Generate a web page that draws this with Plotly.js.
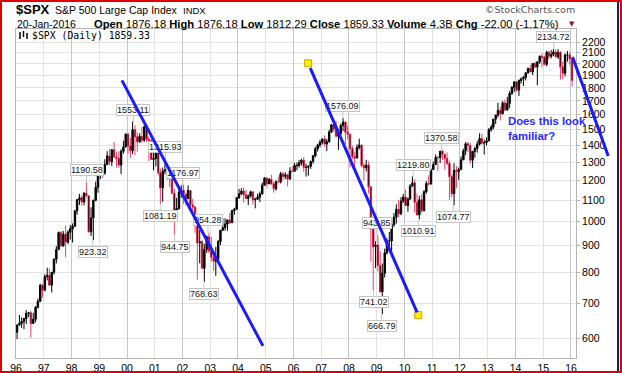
<!DOCTYPE html>
<html><head><meta charset="utf-8">
<script src="https://cdn.plot.ly/plotly-3.0.1.min.js"></script>
<style>
html,body{margin:0;padding:0;background:#fff;}
#chart{width:622px;height:373px;}
#frame{position:absolute;left:0;top:0;width:622px;height:373px;box-sizing:border-box;border:2px solid #e00000;pointer-events:none;}
#frame2{position:absolute;left:617px;top:2px;width:2px;height:369px;background:#1c1c6e;pointer-events:none;}
</style></head><body>
<div id="chart"></div><div id="frame"></div><div id="frame2"></div>
<script>
// ---- data (monthly OHLC of $SPX) ----
const startYear = 1996;
const firstOpen = 615.93;
const high = [
636.18,664.23,656.97,656.41,678.51,673.31,675.88,670.68,690.88,714.10,762.12,761.75,
794.67,817.68,814.90,802.50,851.87,898.70,957.70,960.32,960.46,983.12,964.00,986.25,
992.65,1051.18,1105.65,1130.52,1123.95,1138.49,1190.58,1121.83,1066.11,1102.53,1192.97,1244.93,
1283.00,1283.08,1316.18,1362.80,1375.98,1372.93,1420.33,1360.67,1361.52,1375.02,1427.00,1473.78,
1478.00,1444.55,1553.11,1527.19,1481.51,1474.63,1517.32,1525.21,1530.09,1454.82,1438.46,1389.06,
1383.37,1376.38,1263.47,1269.30,1315.93,1286.62,1239.78,1226.27,1155.40,1110.61,1163.38,1173.62,
1176.97,1130.20,1173.94,1147.84,1106.59,1070.00,994.46,965.00,924.02,907.44,941.82,954.28,
935.05,864.64,895.90,924.24,965.38,1015.33,1015.41,1011.01,1040.29,1053.79,1063.65,1112.56,
1155.38,1158.98,1163.23,1150.57,1127.74,1146.34,1140.84,1111.00,1131.54,1142.05,1188.46,1217.33,
1217.80,1212.44,1229.11,1191.88,1199.56,1219.59,1245.15,1245.86,1243.13,1233.34,1270.64,1275.80,
1294.90,1297.57,1310.88,1318.16,1326.70,1290.68,1280.42,1306.74,1340.28,1389.45,1407.89,1431.81,
1441.61,1461.57,1438.89,1498.02,1535.56,1540.56,1555.90,1503.89,1538.74,1576.09,1552.76,1523.57,
1471.77,1396.02,1359.68,1404.57,1440.24,1404.05,1292.17,1313.15,1303.04,1167.03,1007.51,918.85,
943.85,877.86,832.98,888.70,930.17,956.23,996.68,1039.47,1080.15,1101.36,1113.69,1130.38,
1150.45,1112.42,1180.16,1219.80,1205.13,1131.23,1120.95,1129.24,1148.90,1196.14,1227.08,1262.60,
1302.67,1344.07,1332.28,1364.56,1370.58,1345.20,1356.48,1307.38,1230.71,1292.66,1277.55,1269.37,
1333.47,1378.04,1419.15,1422.38,1415.32,1363.46,1391.74,1426.68,1474.51,1470.96,1434.27,1448.00,
1509.94,1530.94,1570.28,1597.57,1687.18,1654.19,1698.78,1709.67,1729.86,1775.22,1813.55,1849.44,
1850.84,1867.92,1883.97,1897.28,1924.03,1968.17,1991.39,2005.04,2019.26,2018.19,2075.76,2093.55,
2072.36,2119.59,2117.52,2125.92,2134.72,2129.87,2132.82,2112.66,2020.86,2094.32,2116.48,2104.27,
2043.94];
const low = [
597.29,633.71,627.63,624.14,638.30,658.14,601.81,639.49,643.00,683.76,703.77,716.69,
737.01,773.43,756.13,733.54,793.21,833.09,884.54,897.65,896.50,855.27,907.00,924.92,
912.83,980.28,1032.06,1076.70,1074.39,1074.67,1114.30,954.00,939.98,923.32,1094.50,1136.00,
1205.46,1211.69,1228.90,1282.70,1281.41,1277.47,1326.00,1268.37,1268.00,1233.66,1349.00,1387.38,
1350.14,1325.07,1346.62,1339.40,1361.09,1415.00,1413.89,1420.00,1419.44,1305.79,1312.00,1254.07,
1274.62,1228.33,1081.19,1091.99,1232.00,1203.03,1165.54,1131.00,944.75,1026.76,1054.31,1111.00,
1081.66,1074.36,1106.73,1063.46,1048.96,952.92,775.68,833.44,815.28,768.63,872.05,871.50,
840.34,806.29,788.90,847.85,902.83,963.59,962.10,960.84,990.36,995.97,1031.20,1053.41,
1105.08,1124.44,1087.16,1107.00,1076.32,1113.00,1078.78,1060.72,1101.29,1090.19,1127.60,1173.78,
1163.75,1180.95,1176.92,1136.15,1146.18,1188.30,1183.55,1201.07,1205.35,1168.20,1201.07,1246.59,
1245.74,1253.61,1268.42,1280.74,1245.34,1219.29,1224.54,1261.30,1290.93,1327.10,1360.98,1385.93,
1403.97,1389.42,1363.98,1416.37,1476.70,1484.18,1454.25,1370.60,1439.29,1489.56,1406.10,1435.65,
1270.05,1316.75,1256.98,1324.35,1373.72,1272.00,1200.44,1247.45,1133.50,839.80,741.02,815.69,
804.47,734.52,666.79,783.32,866.10,888.86,869.32,978.51,991.97,1019.95,1029.38,1085.89,
1071.59,1044.50,1105.36,1170.69,1040.78,1028.33,1010.91,1039.70,1048.18,1131.87,1173.00,1177.65,
1257.62,1282.86,1249.05,1294.70,1311.80,1258.07,1282.86,1101.54,1114.22,1074.77,1158.66,1202.37,
1258.86,1312.41,1340.03,1357.38,1291.98,1266.74,1325.41,1354.65,1396.56,1403.28,1343.35,1398.11,
1426.19,1485.01,1501.48,1536.03,1581.28,1560.33,1604.57,1627.47,1633.41,1646.47,1746.20,1767.99,
1770.45,1737.92,1834.44,1814.36,1859.79,1915.98,1930.67,1904.78,1964.04,1820.66,2001.01,1972.56,
1988.12,1980.90,2039.69,2048.38,2067.93,2056.32,2044.02,1867.01,1871.91,1893.70,2019.39,1993.26,
1812.29];
const close = [
636.02,640.43,645.50,654.17,669.12,670.63,639.95,651.99,687.33,705.27,757.02,740.74,
786.16,790.82,757.12,801.34,848.28,885.14,954.29,899.47,947.28,914.62,955.40,970.43,
980.28,1049.34,1101.75,1111.75,1090.82,1133.84,1120.67,957.28,1017.01,1098.67,1163.63,1229.23,
1279.64,1238.33,1286.37,1335.18,1301.84,1372.71,1328.72,1320.41,1282.71,1362.93,1388.91,1469.25,
1394.46,1366.42,1498.58,1452.43,1420.60,1454.60,1430.83,1517.68,1436.51,1429.40,1314.95,1320.28,
1366.01,1239.94,1160.33,1249.46,1255.82,1224.42,1211.23,1133.58,1040.94,1059.78,1139.45,1148.08,
1130.20,1106.73,1147.39,1076.92,1067.14,989.82,911.62,916.07,815.28,885.76,936.31,879.82,
855.70,841.15,848.18,916.92,963.59,974.50,990.31,1008.01,995.97,1050.71,1058.20,1111.92,
1131.13,1144.94,1126.21,1107.30,1120.68,1140.84,1101.72,1104.24,1114.58,1130.20,1173.82,1211.92,
1181.27,1203.60,1180.59,1156.85,1191.50,1191.33,1234.18,1220.33,1228.81,1207.01,1249.48,1248.29,
1280.08,1280.66,1294.83,1310.61,1270.09,1270.20,1276.66,1303.82,1335.85,1377.94,1400.63,1418.30,
1438.24,1406.82,1420.86,1482.37,1530.62,1503.35,1455.27,1473.99,1526.75,1549.38,1481.14,1468.36,
1378.55,1330.63,1322.70,1385.59,1400.38,1280.00,1267.38,1282.83,1166.36,968.75,896.24,903.25,
825.88,735.09,797.87,872.81,919.14,919.32,987.48,1020.62,1057.08,1036.19,1095.63,1115.10,
1073.87,1104.49,1169.43,1186.69,1089.41,1030.71,1101.60,1049.33,1141.20,1183.26,1180.55,1257.64,
1286.12,1327.22,1325.83,1363.61,1345.20,1320.64,1292.28,1218.89,1131.42,1253.30,1246.96,1257.60,
1312.41,1365.68,1408.47,1397.91,1310.33,1362.16,1379.32,1406.58,1440.67,1412.16,1416.18,1426.19,
1498.11,1514.68,1569.19,1597.57,1630.74,1606.28,1685.73,1632.97,1681.55,1756.54,1805.81,1848.36,
1782.59,1859.45,1872.34,1883.95,1923.57,1960.23,1930.67,2003.37,1972.29,2018.05,2067.56,2058.90,
1994.99,2104.50,2067.89,2085.51,2107.39,2063.11,2103.84,1972.18,1920.03,2079.36,2080.41,2043.94,
1859.33];

// price callouts
const labelDates = ['1998-07-20','1998-10-08','2000-03-24','2001-05-22','2001-03-22','2002-01-04','2001-09-21','2002-12-02','2002-10-10','2007-10-11','2008-11-21','2009-01-06','2009-03-06','2010-04-26','2010-07-01','2011-05-02','2011-10-04','2015-05-20'];
const labelValues = [1190.58,923.32,1553.11,1315.93,1081.19,1176.97,944.75,954.28,768.63,1576.09,741.02,943.85,666.79,1219.80,1010.91,1370.58,1074.77,2134.72];
const labelIsHigh = [true,false,true,true,false,true,false,true,false,true,false,true,false,true,false,true,false,true];

// drawn trend lines (start/end date and price)
const trendStartDates = ['1999-10-12','2006-07-13','2016-01-12'];
const trendStartValues = [1877,2005,2080];
const trendEndDates = ['2004-11-24','2010-07-01','2017-05-05'];
const trendEndValues = [580,664,1335];

const yTicks = [600,700,800,900,1000,1100,1200,1300,1400,1500,1600,1700,1800,1900,2000,2100,2200];

// ---- build ----
const months = close.map((_, i) => {
  const y = startYear + Math.floor(i / 12);
  const m = (i % 12) + 1;
  return y + '-' + String(m).padStart(2, '0') + '-15';
});
const open = close.map((c, i) => i === 0 ? firstOpen : close[i - 1]);

const RED = '#e3123f';
const traces = [
  {type:'candlestick', x:months, open:open, high:high, low:low, close:close,
   increasing:{line:{color:'#000', width:1}, fillcolor:'#000'},
   decreasing:{line:{color:RED, width:0.8}, fillcolor:'#000'},
   whiskerwidth:0, hoverinfo:'skip', showlegend:false},
  {type:'scatter', mode:'markers', x:[trendStartDates[1], trendEndDates[1]], y:[trendStartValues[1], trendEndValues[1]],
   marker:{symbol:'square', size:7, color:'#ffee00', line:{color:'#c9a400', width:1}}, hoverinfo:'skip', showlegend:false, cliponaxis:false},
  {type:'scatter', x:[], y:[], xaxis:'x2', yaxis:'y', hoverinfo:'skip', showlegend:false}
];

const W = 560, H = 329, L = 16, T = 29;
const px = v => (v - L) / W;
const py = v => 1 - (v - T) / H;
const FONT = 'Liberation Sans, Arial, sans-serif';

const annotations = [];
// header
annotations.push({xref:'paper', yref:'paper', x:px(15), y:py(9.5), xanchor:'left', yanchor:'middle', showarrow:false, borderpad:0,
  text:'<b>$SPX</b>', font:{family:FONT, size:13, color:'#000'}});
annotations.push({xref:'paper', yref:'paper', x:px(54), y:py(10), xanchor:'left', yanchor:'middle', showarrow:false, borderpad:0,
  text:'S&P 500 Large Cap Index', font:{family:FONT, size:10.5, color:'#000'}});
annotations.push({xref:'paper', yref:'paper', x:px(182), y:py(10.5), xanchor:'left', yanchor:'middle', showarrow:false, borderpad:0,
  text:'INDX', font:{family:FONT, size:9.5, color:'#000'}});
annotations.push({xref:'paper', yref:'paper', x:px(576), y:py(9), xanchor:'right', yanchor:'middle', showarrow:false, borderpad:0,
  text:'©StockCharts.com', font:{family:'DejaVu Sans, sans-serif', size:9.5, color:'#555'}});
annotations.push({xref:'paper', yref:'paper', x:px(16), y:py(24), xanchor:'left', yanchor:'middle', showarrow:false, borderpad:0,
  text:'20-Jan-2016', font:{family:FONT, size:10.5, color:'#000'}});
annotations.push({xref:'paper', yref:'paper', x:px(93), y:py(24), xanchor:'left', yanchor:'middle', showarrow:false, borderpad:0,
  text:'<b>Open</b> 1876.18 <b>High</b> 1876.18 <b>Low</b> 1812.29 <b>Close</b> 1859.33 <b>Volume</b> 4.3B <b>Chg</b> -22.00 (-1.17%)',
  font:{family:FONT, size:11.2, color:'#000'}});
annotations.push({xref:'paper', yref:'paper', x:px(572), y:py(24), xanchor:'center', yanchor:'middle', showarrow:false, borderpad:0,
  text:'▼', font:{family:'DejaVu Sans, sans-serif', size:7, color:'#8b1538'}});
annotations.push({xref:'paper', yref:'paper', x:px(31), y:py(35.5), xanchor:'left', yanchor:'middle', showarrow:false, borderpad:0,
  text:'$SPX (Daily) 1859.33', font:{family:'DejaVu Sans Mono, monospace', size:9.8, color:'#000'}});
annotations.push({xref:'paper', yref:'paper', x:px(507), y:py(128.5), xanchor:'left', yanchor:'middle', align:'left', showarrow:false, borderpad:0,
  text:'<b>Does this look<br>familiar?</b>', font:{family:FONT, size:11.3, color:'#2a2aff'}});

// price callouts
labelValues.forEach((v, i) => {
  annotations.push({xref:'x', yref:'y', x:labelDates[i], y:Math.log10(v), text:v.toFixed(2),
    showarrow:true, arrowhead:0, arrowwidth:1, arrowcolor:'#c4c4c4', ax:0, ay: labelIsHigh[i] ? -12 : 12,
    bgcolor:'#fff', bordercolor:'#c4c4c4', borderwidth:1, borderpad:0,
    font:{family:FONT, size:9, color:'#111'}});
});

// trend lines
trendStartDates.forEach((d, i) => {
  annotations.push({xref:'x', yref:'y', axref:'x', ayref:'y',
    x:trendEndDates[i], y:Math.log10(trendEndValues[i]), ax:d, ay:Math.log10(trendStartValues[i]),
    text:' ', font:{size:1}, showarrow:true, arrowhead:0, arrowwidth:3, arrowcolor:'#1a1aff',
    standoff: i === 1 ? 3 : 0, startstandoff: i === 1 ? 3 : 0});
});

const shapes = [
  // tiny bar-chart icon in the legend line
  {type:'line', xref:'paper', yref:'paper', x0:px(20), x1:px(20), y0:py(32), y1:py(39), line:{color:'#000', width:1.5}},
  {type:'line', xref:'paper', yref:'paper', x0:px(23.5), x1:px(23.5), y0:py(31), y1:py(37), line:{color:'#000', width:1.5}},
  {type:'line', xref:'paper', yref:'paper', x0:px(27), x1:px(27), y0:py(33), y1:py(39), line:{color:'#000', width:1.5}}
];

const layout = {
  width:622, height:373,
  margin:{l:L, r:622 - L - W, t:T, b:373 - T - H, pad:0},
  paper_bgcolor:'#fff', plot_bgcolor:'#fff',
  showlegend:false, boxgap:0.05,
  xaxis:{type:'date', range:['1996-01-01','2016-03-07'], dtick:'M12', tick0:'1996-01-01', tickformat:'%y',
    showgrid:true, gridcolor:'#e2e2e2', gridwidth:1, showline:true, linecolor:'#b4b4b4', mirror:true,
    ticks:'', zeroline:false, rangeslider:{visible:false}, fixedrange:true,
    tickfont:{family:FONT, size:10.5, color:'#000'}},
  xaxis2:{type:'date', overlaying:'x', anchor:'y', range:['1996-01-01','2016-03-07'], dtick:'M24', tick0:'1996-01-01',
    showgrid:true, gridcolor:'#c6c6c6', gridwidth:1, showticklabels:false, ticks:'', showline:false, zeroline:false, fixedrange:true},
  yaxis:{type:'log', side:'right', range:[Math.log10(550), Math.log10(2331)], tickvals:yTicks, ticktext:yTicks.map(String),
    showgrid:true, gridcolor:'#e2e2e2', showline:true, linecolor:'#b4b4b4', mirror:true,
    ticks:'outside', ticklen:3, tickcolor:'#b4b4b4', zeroline:false, fixedrange:true,
    tickfont:{family:FONT, size:10.5, color:'#000'}},
  annotations:annotations, shapes:shapes
};

Plotly.newPlot('chart', traces, layout, {displayModeBar:false, staticPlot:true});
</script>
</body></html>
